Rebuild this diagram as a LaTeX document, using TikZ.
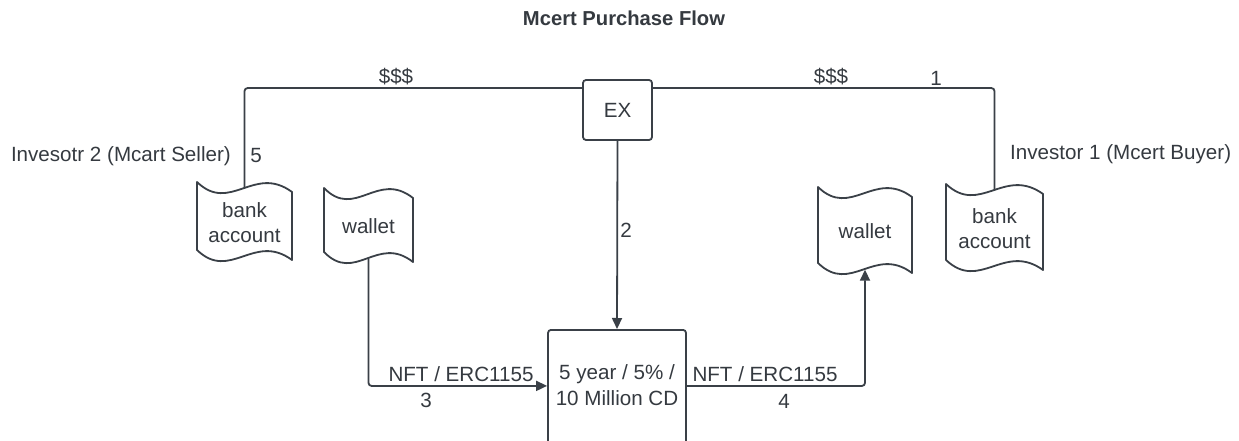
\documentclass[tikz,border=0pt]{standalone}
\usepackage{fontspec}
\setmainfont{Liberation Sans}
\usetikzlibrary{arrows.meta}
\definecolor{lineclr}{HTML}{3A4047}
\definecolor{txtclr}{HTML}{353A40}
\tikzset{
  txt/.style={text=txtclr, font=\fontsize{20.6}{25.5}\selectfont, inner sep=0pt, align=center},
  shapeline/.style={draw=lineclr, line width=1.8pt, line join=round},
  tapetext/.style={txt, draw=none},
  boxnode/.style={draw=lineclr, line width=1.8pt, rounded corners=3pt, inner sep=0pt},
  conn/.style={draw=lineclr, line width=1.8pt, rounded corners=3pt},
  arr/.style={conn, -{Triangle[length=11pt,width=10pt]}},
}
\newcommand{\tapeshape}[6]{%
  \draw[shapeline] (#2,#3) .. controls ({#2+0.35*#4},{#3+32}) and ({#2+0.6*#4},{#3-18}) .. ({#2+#4},{#3+10})
    -- ({#2+#4},{#3+#5+10}) .. controls ({#2+0.6*#4},{#3+#5-18}) and ({#2+0.35*#4},{#3+#5+32}) .. ({#2},{#3+#5}) -- cycle;
  \node[tapetext, minimum width=#4, minimum height=#5] (#1) at ({#2+0.5*#4},{#3+0.5*#5+6.5}) {#6};
}
\begin{document}
\begin{tikzpicture}[x=1pt,y=-1pt]
\path[use as bounding box] (0,0) rectangle (1239,441);
\clip (0,0) rectangle (1239,441);
\fill[white] (0,0) rectangle (1239,441);

\node[txt, font=\fontsize{20.2}{24}\bfseries] (title) at (624,18) {Mcert Purchase Flow};

\node[boxnode, minimum width=69, minimum height=60] (ex) at (617.5,110) {};
\node[txt] (extext) at (617.5,110) {EX};

\tapeshape{bank2}{197}{182}{95}{68}{bank\\account}
\tapeshape{wallet1}{324}{188}{89}{64}{wallet}
\tapeshape{wallet2}{818}{187}{94}{76}{wallet}
\tapeshape{bank1}{946}{184}{97}{76}{bank\\account}

\node[boxnode, minimum width=138, minimum height=140, anchor=north] (cd) at (617,329) {};
\node[txt] (cdtext) at (617,385) {5 year / 5\% /\\10 Million CD};

\node[txt, anchor=east] (seller) at (231,156) {Invesotr 2 (Mcart Seller)};
\node[txt, anchor=west] (buyer) at (1010,154) {Investor 1 (Mcert Buyer)};

\draw[conn] ([yshift=-9pt]ex.north west) -| (bank2.north);
\draw[conn] ([yshift=-9pt]ex.north east) -| (bank1.north);
\draw[arr] (ex.south) -- (cd.north);
\draw[arr] (wallet1.south) |- ([yshift=14pt]cd.west);
\draw[arr] ([yshift=14pt]cd.east) -| (wallet2.south);

\node[txt] (l1) at (396,77) {\$\$\$};
\node[txt] (l2) at (831,77) {\$\$\$};
\node[txt] (n1) at (936,78) {1};
\node[txt] (n5) at (256,156) {5};
\node[txt] (n2) at (626,230) {2};
\node[txt] (nft3) at (461,374) {NFT / ERC1155};
\node[txt] (n3) at (426,400) {3};
\node[txt] (nft4) at (765,374) {NFT / ERC1155};
\node[txt] (n4) at (784,401) {4};
\end{tikzpicture}
\end{document}
